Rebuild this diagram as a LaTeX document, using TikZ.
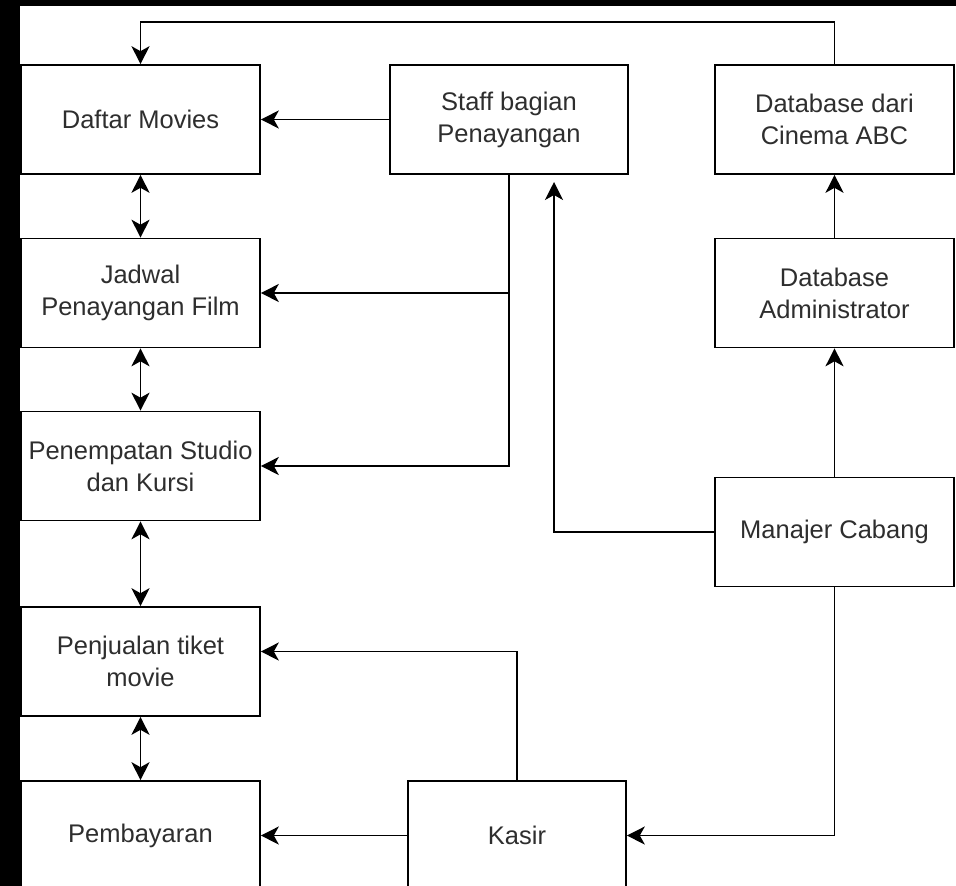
\documentclass[tikz,border=0pt]{standalone}
\usepackage{fontspec}
\setmainfont{Liberation Sans}
\usetikzlibrary{arrows.meta}
\definecolor{txt}{HTML}{2E2E2E}
\begin{document}
\begin{tikzpicture}[x=1pt,y=-1pt,
  box/.style={draw, line width=1.6pt, minimum width=239pt, minimum height=109pt,
    inner sep=0pt, align=center, text=txt, font=\fontsize{25.5}{32}\selectfont},
  link/.style={line width=1.6pt, -{Stealth[length=18pt,width=18pt,inset=5pt]}},
  both/.style={line width=1.6pt, {Stealth[length=18pt,width=18pt,inset=5pt]}-{Stealth[length=18pt,width=18pt,inset=5pt]}}]
  % canvas: black frame strip on the left and top
  \useasboundingbox (0,0) rectangle (956,886);
  \clip (0,0) rectangle (956,886);
  \fill[black] (0,0) rectangle (956,886);
  \fill[white] (20,6) rectangle (956,886);

  % left column
  \node[box] (daftar) at (140.5,119.5) {Daftar Movies};
  \node[box] (jadwal) at (140.5,293) {Jadwal\\Penayangan Film};
  \node[box] (penempatan) at (140.5,466) {Penempatan Studio\\dan Kursi};
  \node[box] (penjualan) at (140.5,661.5) {Penjualan tiket\\movie};
  \node[box] (pembayaran) at (140.5,835.5) {Pembayaran};

  % middle column
  \node[box, minimum width=238pt] (staff) at (509,119.5) {Staff bagian\\Penayangan};
  \node[box, minimum width=218pt] (kasir) at (517,835.5) {Kasir};

  % right column
  \node[box] (dbc) at (834.5,119.5) {Database dari\\Cinema ABC};
  \node[box] (dba) at (834.5,293) {Database\\Administrator};
  \node[box] (manajer) at (834.5,532) {Manajer Cabang};

  \coordinate (mtip) at (554,182);

  % connectors
  \draw[link] (dbc.north) -- (dbc.north |- 0,22) -| (daftar.north);
  \draw[link] (staff.west) -- (daftar.east);
  \draw[link] (staff.south) |- (jadwal.east);
  \draw[link] (staff.south) |- (penempatan.east);
  \draw[link] (manajer.west) -| (mtip);
  \draw[link] (manajer.north) -- (dba.south);
  \draw[link] (dba.north) -- (dbc.south);
  \draw[link] (manajer.south) |- (kasir.east);
  \draw[link] (kasir.north) |- ([yshift=10pt]penjualan.east);
  \draw[link] (kasir.west) -- (pembayaran.east);

  \draw[both] (daftar.south) -- (jadwal.north);
  \draw[both] (jadwal.south) -- (penempatan.north);
  \draw[both] (penempatan.south) -- (penjualan.north);
  \draw[both] (penjualan.south) -- (pembayaran.north);
\end{tikzpicture}
\end{document}
